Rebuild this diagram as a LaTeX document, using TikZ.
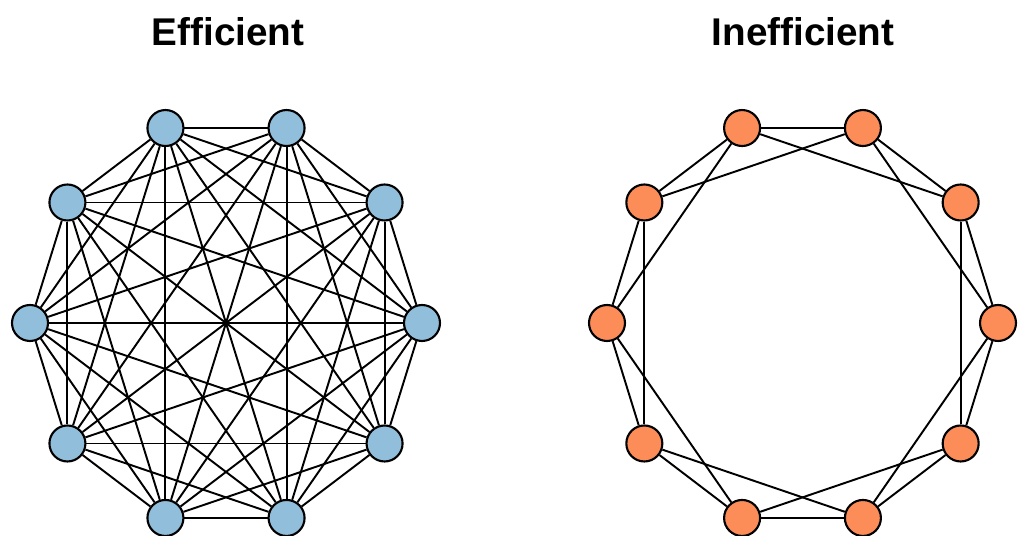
\documentclass[tikz,border=0pt]{standalone}
\usepackage{fontspec}
\setmainfont{Liberation Sans}
\definecolor{effblue}{HTML}{91BFDB}
\definecolor{inforange}{HTML}{FC8D59}
\tikzset{
  vert/.style={circle, draw, line width=1.2pt, minimum size=0.72cm, inner sep=0pt},
  title/.style={font=\fontsize{22}{26}\selectfont\bfseries}
}

\begin{document}
\begin{tikzpicture}[line width=1.1pt]
  \useasboundingbox (0,0) rectangle (20.44,10.72);
  \node[title] (efftitle) at (4.56,10.08) {Efficient};
  \node[title] (inftitle) at (16.06,10.08) {Inefficient};
  % vertices
  \foreach \k in {0,...,9} {
    \node[vert, fill=effblue] (e\k) at ({4.52+3.92*cos(36*\k)},{4.26+4.1*sin(36*\k)}) {};
    \node[vert, fill=inforange] (i\k) at ({16.05+3.91*cos(36*\k)},{4.26+4.1*sin(36*\k)}) {};
  }
  % complete graph
  \foreach \a in {0,...,8} {
    \pgfmathtruncatemacro{\s}{\a+1}
    \foreach \b in {\s,...,9} { \draw (e\a) -- (e\b); }
  }
  % ring lattice
  \foreach \a in {0,...,9} {
    \pgfmathtruncatemacro{\p}{mod(\a+1,10)}
    \pgfmathtruncatemacro{\q}{mod(\a+2,10)}
    \draw (i\a) -- (i\p);
    \draw (i\a) -- (i\q);
  }
\end{tikzpicture}
\end{document}
